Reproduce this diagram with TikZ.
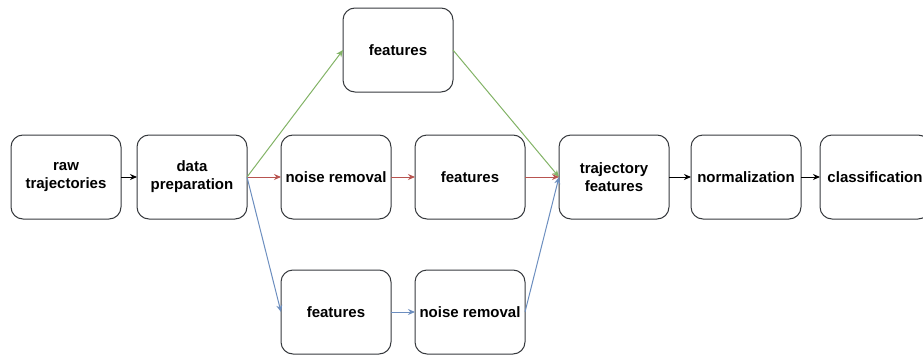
\documentclass[tikz,border=0pt]{standalone}
\usepackage{fontspec}
\setmainfont{Liberation Sans}
\usetikzlibrary{positioning,arrows.meta}
\definecolor{greenline}{HTML}{82B366}
\definecolor{redline}{HTML}{B85450}
\definecolor{blueline}{HTML}{6C8EBF}
\definecolor{boxline}{HTML}{36393D}
\tikzset{
    stagebox/.style={draw=boxline, line width=1pt, rounded corners=12pt, minimum width=110pt, minimum height=84pt,
        inner sep=0pt, outer sep=0pt, align=center, font=\fontsize{15}{18}\selectfont\bfseries},
    flow/.style={-{Stealth[length=7pt,width=6pt]}, line width=1pt}
}
\begin{document}
\begin{tikzpicture}[x=1pt, y=-1pt]
    \clip (0,0) rectangle (923,356);

    % Main pipeline
    \node[stagebox] (raw) at (66,177) {raw\\trajectories};
    \node[stagebox, right=16pt of raw] (prep) {data\\preparation};
    \node[stagebox, right=34pt of prep] (noiseA) {noise removal};
    \node[stagebox, right=24pt of noiseA] (featA) {features};
    \node[stagebox, right=34pt of featA] (traj) {trajectory\\features};
    \node[stagebox, right=22pt of traj] (norm) {normalization};
    \node[stagebox, right=19pt of norm] (classif) {classification};

    % Upper and lower branches
    \node[stagebox] (featT) at (398,50) {features};
    \node[stagebox, below=51pt of noiseA] (featB) {features};
    \node[stagebox, below=51pt of featA] (noiseB) {noise removal};

    % Black connections
    \draw[flow] (raw) -- (prep);
    \draw[flow] (traj) -- (norm);
    \draw[flow] (norm) -- (classif);

    % Green branch
    \draw[flow, greenline] (prep.east) -- (featT.west);
    \draw[flow, greenline] (featT.east) -- (traj.west);

    % Red branch
    \draw[flow, redline] (prep) -- (noiseA);
    \draw[flow, redline] (noiseA) -- (featA);
    \draw[flow, redline] (featA) -- (traj);

    % Blue branch
    \draw[flow, blueline] (prep.east) -- (featB.west);
    \draw[flow, blueline] (featB) -- (noiseB);
    \draw[flow, blueline] (noiseB.east) -- (traj.west);
\end{tikzpicture}
\end{document}
